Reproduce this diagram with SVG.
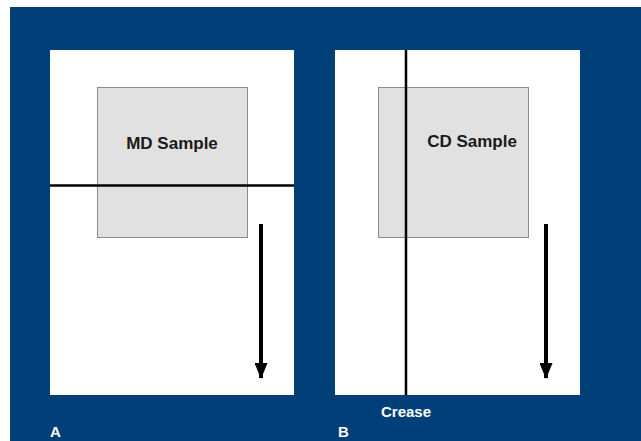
<svg xmlns="http://www.w3.org/2000/svg" width="641" height="441" viewBox="0 0 641 441">
<style>
.panel{fill:#ffffff}
.sample{fill:#e1e1e1;stroke:#8c8c8c;stroke-width:1}
.lbl{font-family:"Liberation Sans",Arial,sans-serif;font-weight:bold;font-size:17px;fill:#1a1a1a;text-anchor:middle}
.wl{font-family:"Liberation Sans",Arial,sans-serif;font-weight:bold;font-size:15px;fill:#ffffff}
.crease{stroke:#000;stroke-width:2.5}
.arrow{stroke:#000;stroke-width:4;fill:none}
</style>
<defs>
<marker id="ah" viewBox="0 0 16 13" refX="15" refY="6.5" markerWidth="4" markerHeight="3.25" orient="auto" markerUnits="strokeWidth">
<path d="M0,0 L16,6.5 L0,13 z" fill="#000"/>
</marker>
</defs>
<rect x="10" y="7" width="631" height="434" fill="#013f79"/>
<g id="panelA">
<rect class="panel" x="50" y="50" width="244" height="345"/>
<g id="mdSample">
<rect class="sample" x="97.5" y="87.5" width="150" height="150"/>
<text class="lbl" x="172" y="149">MD Sample</text>
</g>
<text class="wl" x="50" y="437">A</text>
</g>
<g id="panelB">
<rect class="panel" x="335" y="50" width="245" height="345"/>
<g id="cdSample">
<rect class="sample" x="378.5" y="87.5" width="150" height="150"/>
<text class="lbl" x="472" y="147">CD Sample</text>
</g>
<text class="wl" x="338" y="437">B</text>
<text class="wl" x="406" y="417" text-anchor="middle">Crease</text>
</g>
<g id="connectors">
<line class="crease" x1="50" y1="185.5" x2="294" y2="185.5"/>
<line class="crease" x1="406" y1="50" x2="406" y2="395"/>
<line class="arrow" x1="261" y1="224" x2="261" y2="378" marker-end="url(#ah)"/>
<line class="arrow" x1="546" y1="224" x2="546" y2="378" marker-end="url(#ah)"/>
</g>
</svg>
